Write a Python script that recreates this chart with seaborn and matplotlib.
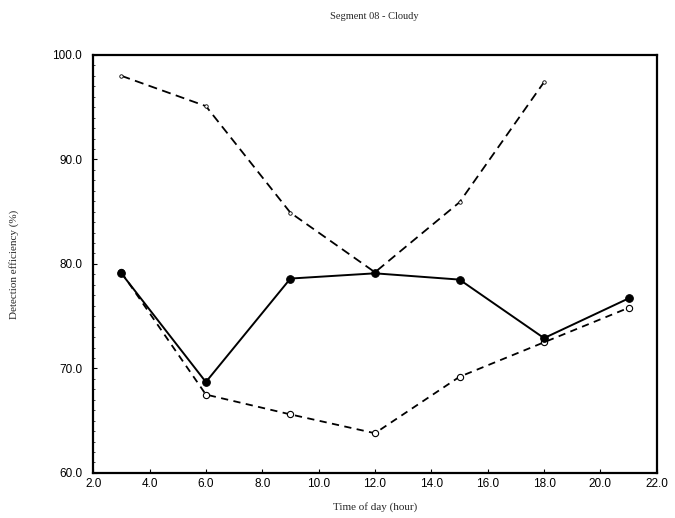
import matplotlib
matplotlib.use("Agg")
import matplotlib.pyplot as plt
from matplotlib.ticker import MultipleLocator, FormatStrFormatter
import seaborn as sns
import pandas as pd

hours = [3, 6, 9, 12, 15, 18, 21]
solid_eff = [79.1, 68.7, 78.6, 79.1, 78.5, 72.9, 76.7]
lower_eff = [79.2, 67.5, 65.6, 63.8, 69.2, 72.5, 75.8]
upper_hours = [3, 6, 9, 12, 15, 18]
upper_eff = [98.0, 95.1, 84.9, 79.2, 85.9, 97.4]

title = "Segment 08 - Cloudy"
xlabel = "Time of day (hour)"
ylabel = "Detection efficiency (%)"

sns.set_style("ticks")
plt.rcParams['font.family'] = ['Liberation Sans', 'DejaVu Sans']

fig = plt.figure(figsize=(6.75, 5.18), dpi=100)
ax = fig.add_axes([0.138, 0.087, 0.835, 0.807])

df_solid = pd.DataFrame({"x": hours, "y": solid_eff})
df_lower = pd.DataFrame({"x": hours, "y": lower_eff})
df_upper = pd.DataFrame({"x": upper_hours, "y": upper_eff})

sns.lineplot(data=df_upper, x="x", y="y", ax=ax, color="black", lw=1.3,
             linestyle=(0, (5, 3)), marker="o", markersize=2.5,
             markerfacecolor="white", markeredgecolor="black", markeredgewidth=0.6)
sns.lineplot(data=df_lower, x="x", y="y", ax=ax, color="black", lw=1.3,
             linestyle=(0, (4, 3)), marker="o", markersize=4.5,
             markerfacecolor="white", markeredgecolor="black", markeredgewidth=0.8)
sns.lineplot(data=df_solid, x="x", y="y", ax=ax, color="black", lw=1.4,
             linestyle="-", marker="o", markersize=5.5,
             markerfacecolor="black", markeredgecolor="black")

ax.set_xlim(2, 22)
ax.set_ylim(60, 100)
ax.xaxis.set_major_locator(MultipleLocator(2))
ax.yaxis.set_major_locator(MultipleLocator(10))
ax.yaxis.set_minor_locator(MultipleLocator(1))
ax.xaxis.set_major_formatter(FormatStrFormatter("%.1f"))
ax.yaxis.set_major_formatter(FormatStrFormatter("%.1f"))
ax.tick_params(axis="both", which="major", labelsize=8.5, length=3, width=0.8,
               direction="in", colors="black")
ax.tick_params(axis="x", which="major", pad=4)
ax.tick_params(axis="y", which="major", pad=8)
ax.tick_params(axis="y", which="minor", length=1.5, width=0.6, direction="in")
for s in ax.spines.values():
    s.set_linewidth(1.6)
    s.set_color("black")

ax.set_xlabel(xlabel, fontsize=8, family=["Liberation Serif"], labelpad=8)
ax.set_ylabel(ylabel, fontsize=8, family=["Liberation Serif"], labelpad=24)
fig.text(0.555, 0.968, title, ha="center", va="center", fontsize=7.5,
         family=["Liberation Serif"])

fig.savefig("out.png", dpi=100)
